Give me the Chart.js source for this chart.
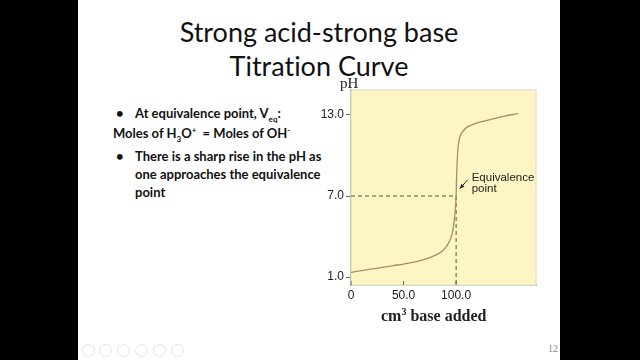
<!DOCTYPE html>
<html>
<head>
<meta charset="utf-8">
<script src="https://cdn.jsdelivr.net/npm/chart.js@4.4.1/dist/chart.umd.min.js"></script>
<style>
    html, body { margin: 0; padding: 0; background: #000; }
    body { width: 640px; height: 360px; position: relative; overflow: hidden; }
    .slide { position: absolute; left: 78px; top: 0; width: 482px; height: 360px; background: #fff;
        font-variant-ligatures: none; }
    .title { position: absolute; left: 0; width: 482px; top: 15px; text-align: center;
        font-family: Lato, "Open Sans", sans-serif; font-size: 27px; line-height: 34px; color: #111; }
    .bullets { position: absolute; left: 0; top: 0; font-family: Lato, "Open Sans", sans-serif;
        font-weight: bold; font-size: 13px; color: #111; }
    .bullets div { position: absolute; white-space: nowrap; }
    .bullets sub, .bullets sup { font-size: 8px; line-height: 0; }
    .ph { position: absolute; left: 262px; top: 75px; font-family: "Liberation Serif", serif; font-size: 15px; color: #222; }
    .xtitle { position: absolute; left: 303px; top: 307px; font-family: "Liberation Serif", serif;
        font-weight: bold; font-size: 16px; color: #222; white-space: nowrap; }
    .xtitle sup { font-size: 10px; line-height: 0; }
    .page { position: absolute; left: 470px; top: 343px; font-family: "Liberation Serif", serif; font-size: 10px; color: #888; }
    .btn { position: absolute; top: 344px; width: 11px; height: 11px; border: 1px solid #e4e4e4; border-radius: 50%; }
    #wrap { position: absolute; left: 222px; top: 70px; width: 260px; height: 262px; }
</style>
</head>
<body>
<div class="slide">
    <div class="title">Strong acid-strong base<br>Titration Curve</div>
    <div class="bullets">
        <div style="left:38px;top:105px">•</div>
        <div style="left:57px;top:105px">At equivalence point, V<sub>eq</sub>:</div>
        <div style="left:35px;top:125px">Moles of H<sub>3</sub>O<sup>+</sup>&nbsp; = Moles of OH<sup>-</sup></div>
        <div style="left:38px;top:148px">•</div>
        <div style="left:57px;top:148px">There is a sharp rise in the pH as</div>
        <div style="left:57px;top:166px">one approaches the equivalence</div>
        <div style="left:57px;top:184px">point</div>
    </div>
    <div id="wrap"><canvas id="titration"></canvas></div>
    <div class="ph">pH</div>
    <div class="xtitle">cm<sup>3</sup> base added</div>
    <div class="page">12</div>
    <div class="btn" style="left:4px"></div>
    <div class="btn" style="left:21px"></div>
    <div class="btn" style="left:39px"></div>
    <div class="btn" style="left:57px"></div>
    <div class="btn" style="left:75px"></div>
    <div class="btn" style="left:93px"></div>
</div>
<script>
// Curve data
const baseAdded = [0, 20, 40, 50, 70, 80, 88, 94, 97, 99, 100, 100.3, 100.7, 102, 106.7, 116, 129.5, 145, 159];
const phValues  = [1.35, 1.6, 1.85, 1.95, 2.3, 2.6, 3.0, 3.7, 4.5, 5.8, 7.0, 8.0, 9.0, 10.7, 11.8, 12.3, 12.6, 12.9, 13.1];

const xTicks = [0, 50, 100];
const xTickLabels = ['0', '50.0', '100.0'];
const yTicks = [1, 7, 13];
const yTickLabels = ['1.0', '7.0', '13.0'];

// Equivalence point and its label
const eqVolume = 100;
const eqPh = 7;
const labelLines = ['Equivalence', 'point'];
const arrowFrom = { x: 111, y: 8.2 };
const arrowTo = { x: 103.6, y: 7.55 };

document.addEventListener('DOMContentLoaded', function() {
    const points = baseAdded.map((v, i) => ({ x: v, y: phValues[i] }));

    const plotDecor = {
        id: 'plotDecor',
        beforeDatasetsDraw(chart) {
            const { ctx, chartArea: a, scales } = chart;
            ctx.save();
            ctx.fillStyle = '#fdf5c4';
            ctx.fillRect(a.left, a.top, a.right - a.left, a.bottom - a.top);
            ctx.strokeStyle = '#e9e3c6';
            ctx.lineWidth = 1.5;
            ctx.strokeRect(a.left, a.top, a.right - a.left, a.bottom - a.top);

            // dashed guides to the equivalence point
            const ex = scales.x.getPixelForValue(eqVolume);
            const ey = scales.y.getPixelForValue(eqPh);
            ctx.strokeStyle = '#5d5238';
            ctx.lineWidth = 1;
            ctx.setLineDash([4, 3]);
            ctx.beginPath();
            ctx.moveTo(a.left, ey);
            ctx.lineTo(ex, ey);
            ctx.moveTo(ex, ey);
            ctx.lineTo(ex, a.bottom);
            ctx.stroke();
            ctx.setLineDash([]);

            // small inward ticks on the x axis
            ctx.strokeStyle = '#6a6656';
            ctx.beginPath();
            xTicks.forEach(v => {
                const px = scales.x.getPixelForValue(v);
                ctx.moveTo(px, a.bottom);
                ctx.lineTo(px, a.bottom - 4);
            });
            ctx.stroke();
            ctx.restore();
        },
        afterDatasetsDraw(chart) {
            const { ctx, scales } = chart;
            const fx = scales.x.getPixelForValue(arrowFrom.x);
            const fy = scales.y.getPixelForValue(arrowFrom.y);
            const tx = scales.x.getPixelForValue(arrowTo.x);
            const ty = scales.y.getPixelForValue(arrowTo.y);
            ctx.save();
            ctx.strokeStyle = '#222';
            ctx.fillStyle = '#222';
            ctx.lineWidth = 1;
            ctx.beginPath();
            ctx.moveTo(fx, fy);
            ctx.lineTo(tx, ty);
            ctx.stroke();
            const ang = Math.atan2(ty - fy, tx - fx);
            ctx.beginPath();
            ctx.moveTo(tx, ty);
            ctx.lineTo(tx - 5 * Math.cos(ang - 0.45), ty - 5 * Math.sin(ang - 0.45));
            ctx.lineTo(tx - 5 * Math.cos(ang + 0.45), ty - 5 * Math.sin(ang + 0.45));
            ctx.closePath();
            ctx.fill();

            ctx.font = '11.5px "Liberation Sans", Arial, sans-serif';
            ctx.textBaseline = 'middle';
            ctx.fillText(labelLines[0], fx + 4, fy - 2);
            ctx.fillText(labelLines[1], fx + 4, fy + 9);
            ctx.restore();
        }
    };

    const tickFont = { family: '"Liberation Sans", Arial, sans-serif', size: 12 };

    new Chart(document.getElementById('titration').getContext('2d'), {
        type: 'line',
        data: {
            datasets: [{
                data: points,
                borderColor: '#a48f66',
                borderWidth: 1.3,
                cubicInterpolationMode: 'monotone',
                pointRadius: 0,
                fill: false
            }]
        },
        options: {
            responsive: true,
            maintainAspectRatio: false,
            animation: false,
            layout: { padding: { left: 0, top: 20, right: 24, bottom: 0 } },
            scales: {
                x: {
                    type: 'linear',
                    min: 0,
                    max: 176,
                    afterBuildTicks: scale => { scale.ticks = xTicks.map(v => ({ value: v })); },
                    afterFit: scale => { scale.height = 47; },
                    ticks: {
                        color: '#222',
                        font: tickFont,
                        padding: 3,
                        maxRotation: 0,
                        callback: (v) => xTickLabels[xTicks.indexOf(v)]
                    },
                    grid: { drawOnChartArea: false, drawTicks: false },
                    border: { color: '#6a6656', width: 1.5 }
                },
                y: {
                    min: 0.41,
                    max: 14.85,
                    afterBuildTicks: scale => { scale.ticks = yTicks.map(v => ({ value: v })); },
                    afterFit: scale => { scale.width = 51; },
                    ticks: {
                        color: '#222',
                        font: tickFont,
                        padding: 2,
                        callback: (v) => yTickLabels[yTicks.indexOf(v)]
                    },
                    grid: { drawOnChartArea: false, drawTicks: true, tickLength: 5, color: '#6a6656' },
                    border: { color: '#6a6656', width: 1.5 }
                }
            },
            plugins: {
                legend: { display: false },
                tooltip: { enabled: false }
            }
        },
        plugins: [plotDecor]
    });
});
</script>
</body>
</html>
